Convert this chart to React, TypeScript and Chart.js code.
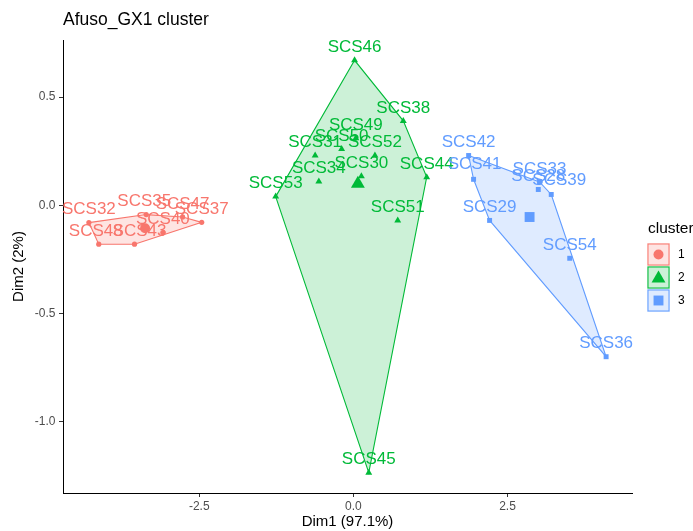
import React, { useEffect, useRef } from 'react';
import { Chart, registerables } from 'chart.js';

Chart.register(...registerables);

// ---- data ----
const clusterIds = ['1', '2', '3'];

const c1Names = ['SCS32', 'SCS48', 'SCS43', 'SCS40', 'SCS37', 'SCS47', 'SCS35'];
const c1X = [-4.29, -4.13, -3.55, -3.09, -2.46, -2.77, -3.36];
const c1Y = [-0.08, -0.18, -0.18, -0.126, -0.079, -0.054, -0.043];

const c2Names = ['SCS46', 'SCS38', 'SCS49', 'SCS50', 'SCS31', 'SCS52', 'SCS30', 'SCS34', 'SCS44', 'SCS53', 'SCS51', 'SCS45'];
const c2X = [0.02, 0.81, 0.04, -0.19, -0.62, 0.35, 0.13, -0.56, 1.19, -1.26, 0.72, 0.25];
const c2Y = [0.67, 0.39, 0.31, 0.26, 0.23, 0.23, 0.134, 0.11, 0.13, 0.04, -0.07, -1.236];

const c3Names = ['SCS42', 'SCS41', 'SCS33', 'SCS28', 'SCS39', 'SCS29', 'SCS54', 'SCS36'];
const c3X = [1.87, 1.95, 3.02, 3.0, 3.21, 2.21, 3.51, 4.1];
const c3Y = [0.23, 0.12, 0.108, 0.073, 0.05, -0.07, -0.245, -0.7];

const xTicks = [-2.5, 0.0, 2.5];
const yTicks = [-1.0, -0.5, 0.0, 0.5];

const titleText = 'Afuso_GX1 cluster';
const xTitle = 'Dim1 (97.1%)';
const yTitle = 'Dim2 (2%)';
const legendTitle = 'cluster';

// ---- styles ----
const FONT = '"Liberation Sans", Arial, Helvetica, sans-serif';
const colors = ['#F8766D', '#00BA38', '#619CFF'];
const fills = ['rgba(248,118,109,0.2)', 'rgba(0,186,56,0.2)', 'rgba(97,156,255,0.2)'];
const shapes = ['circle', 'triangle', 'rect'];
const pointRadii = [2.6, 4, 3.5];
const centroidRadii = [5, 8, 7];
const labelNudge: Record<string, [number, number]> = {
  SCS39: [8, -1],
  SCS43: [5, 0],
  SCS48: [-3, 0],
  SCS41: [1, -2],
  SCS35: [-2, 0],
};

type P = { x: number; y: number };
const clusters = [
  { names: c1Names, xs: c1X, ys: c1Y },
  { names: c2Names, xs: c2X, ys: c2Y },
  { names: c3Names, xs: c3X, ys: c3Y },
];

function toPts(xs: number[], ys: number[]): P[] {
  return xs.map((x, i) => ({ x, y: ys[i] }));
}
function mean(a: number[]) {
  return a.reduce((s, v) => s + v, 0) / a.length;
}
function convexHull(pts: P[]): P[] {
  const p = [...pts].sort((a, b) => a.x - b.x || a.y - b.y);
  const cross = (o: P, a: P, b: P) => (a.x - o.x) * (b.y - o.y) - (a.y - o.y) * (b.x - o.x);
  const lower: P[] = [];
  for (const q of p) {
    while (lower.length >= 2 && cross(lower[lower.length - 2], lower[lower.length - 1], q) <= 0) lower.pop();
    lower.push(q);
  }
  const upper: P[] = [];
  for (let i = p.length - 1; i >= 0; i--) {
    const q = p[i];
    while (upper.length >= 2 && cross(upper[upper.length - 2], upper[upper.length - 1], q) <= 0) upper.pop();
    upper.push(q);
  }
  upper.pop();
  lower.pop();
  const h = lower.concat(upper);
  return [...h, h[0]];
}

const labelPlugin = {
  id: 'pointLabels',
  afterDatasetsDraw(chart: any) {
    const { ctx } = chart;
    const xs = chart.scales.x;
    const ys = chart.scales.y;
    ctx.save();
    ctx.font = `17px ${FONT}`;
    ctx.textAlign = 'center';
    ctx.textBaseline = 'middle';
    clusters.forEach((c, k) => {
      ctx.fillStyle = colors[k];
      c.names.forEach((n, i) => {
        const nd = labelNudge[n] || [0, 0];
        const px = xs.getPixelForValue(c.xs[i]) + nd[0];
        const py = ys.getPixelForValue(c.ys[i]) - 13 + nd[1];
        ctx.fillText(n, px, py);
      });
    });
    ctx.restore();
  },
};

function drawShape(ctx: CanvasRenderingContext2D, shape: string, x: number, y: number, r: number) {
  ctx.beginPath();
  if (shape === 'circle') {
    ctx.arc(x, y, r, 0, Math.PI * 2);
  } else if (shape === 'triangle') {
    ctx.moveTo(x, y - r);
    ctx.lineTo(x + r * 0.866, y + r * 0.5);
    ctx.lineTo(x - r * 0.866, y + r * 0.5);
    ctx.closePath();
  } else {
    const s = r * Math.SQRT1_2;
    ctx.rect(x - s, y - s, 2 * s, 2 * s);
  }
  ctx.fill();
}

const legendPlugin = {
  id: 'clusterLegend',
  afterDraw(chart: any) {
    const { ctx, chartArea } = chart;
    const x0 = chartArea.right + 15;
    const top = 243;
    const key = 23;
    ctx.save();
    ctx.font = `15.5px ${FONT}`;
    ctx.fillStyle = '#000';
    ctx.textAlign = 'left';
    ctx.textBaseline = 'middle';
    ctx.fillText(legendTitle, x0 + 1, top - 14);
    clusterIds.forEach((id, k) => {
      const y = top + k * key;
      ctx.fillStyle = '#fff';
      ctx.fillRect(x0, y, key, key);
      ctx.fillStyle = fills[k];
      ctx.fillRect(x0, y, key, key);
      ctx.strokeStyle = colors[k];
      ctx.lineWidth = 1;
      ctx.strokeRect(x0 + 1, y + 1, key - 2, key - 2);
      ctx.fillStyle = colors[k];
      drawShape(ctx, shapes[k], x0 + key / 2, y + key / 2 + (k === 1 ? 1 : 0), centroidRadii[k]);
      ctx.fillStyle = '#000';
      ctx.font = `12px ${FONT}`;
      ctx.fillText(id, x0 + key + 8, y + key / 2);
    });
    ctx.restore();
  },
};

export default function App() {
  const ref = useRef<HTMLCanvasElement | null>(null);

  useEffect(() => {
    if (!ref.current) return;
    const datasets: any[] = [];
    clusters.forEach((c, k) => {
      const pts = toPts(c.xs, c.ys);
      datasets.push({
        label: 'cent' + clusterIds[k],
        data: [{ x: mean(c.xs), y: mean(c.ys) }],
        pointStyle: shapes[k],
        pointRadius: centroidRadii[k],
        backgroundColor: colors[k],
        borderWidth: 0,
        order: 0,
      });
      datasets.push({
        label: clusterIds[k],
        data: pts,
        pointStyle: shapes[k],
        pointRadius: pointRadii[k],
        backgroundColor: colors[k],
        borderWidth: 0,
        order: 1,
      });
      datasets.push({
        label: 'hull' + clusterIds[k],
        data: convexHull(pts),
        showLine: true,
        fill: 'shape',
        backgroundColor: fills[k],
        borderColor: colors[k],
        borderWidth: 1.1,
        pointRadius: 0,
        tension: 0,
        order: 2,
      });
    });

    const chart = new Chart(ref.current, {
      type: 'scatter',
      data: { datasets },
      plugins: [labelPlugin, legendPlugin],
      options: {
        animation: false,
        responsive: false,
        events: [],
        layout: { padding: { left: 0, right: 61, top: 0, bottom: 0 } },
        plugins: {
          legend: { display: false },
          tooltip: { enabled: false },
          title: {
            display: true,
            text: titleText,
            align: 'start',
            fullSize: false,
            color: '#000',
            font: { family: FONT, size: 17.5, weight: 'normal', lineHeight: 1.2 },
            padding: { top: 10, bottom: 9 },
          },
        },
        scales: {
          x: {
            type: 'linear',
            min: -4.71,
            max: 4.52,
            afterFit: (s: any) => { s.height = 38; },
            afterBuildTicks: (s: any) => { s.ticks = xTicks.map((v) => ({ value: v })); },
            ticks: {
              color: '#4D4D4D',
              font: { family: FONT, size: 12 },
              padding: 2,
              maxRotation: 0,
              callback: (v: any) => Number(v).toFixed(1),
            },
            grid: { display: true, drawOnChartArea: false, drawTicks: true, tickLength: 4, color: '#333333', lineWidth: 1 },
            border: { display: true, color: '#000', width: 1 },
            title: {
              display: true,
              text: xTitle,
              color: '#000',
              font: { family: FONT, size: 15, lineHeight: 1 },
              padding: { top: 0, bottom: 2 },
            },
          },
          y: {
            type: 'linear',
            min: -1.33,
            max: 0.764,
            afterFit: (s: any) => { s.width = 63; },
            afterBuildTicks: (s: any) => { s.ticks = yTicks.map((v) => ({ value: v })); },
            ticks: {
              color: '#4D4D4D',
              font: { family: FONT, size: 12 },
              padding: 3.5,
              callback: (v: any) => Number(v).toFixed(1),
            },
            grid: { display: true, drawOnChartArea: false, drawTicks: true, tickLength: 4, color: '#333333', lineWidth: 1 },
            border: { display: true, color: '#000', width: 1 },
            title: {
              display: true,
              text: yTitle,
              color: '#000',
              font: { family: FONT, size: 15, lineHeight: 1.2 },
              padding: { top: 10, bottom: 0 },
            },
          },
        },
      },
    } as any);
    return () => chart.destroy();
  }, []);

  return (
    <div style={{ position: 'absolute', left: 0, top: 0, width: 693, height: 531, background: '#fff' }}>
      <canvas ref={ref} width={693} height={531} style={{ display: 'block' }} />
    </div>
  );
}
